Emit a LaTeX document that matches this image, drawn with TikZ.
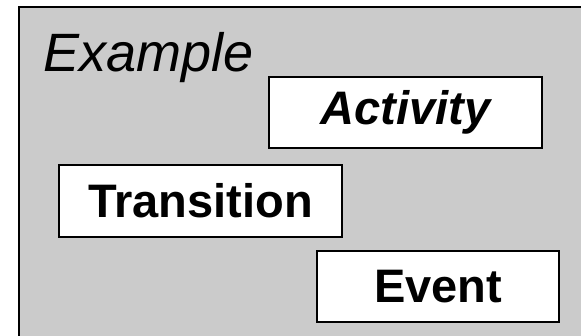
\documentclass[tikz,border=0pt]{standalone}
\usepackage{fontspec}
\setmainfont{Liberation Sans}
\definecolor{panelgray}{HTML}{CBCBCB}
\begin{document}
\begin{tikzpicture}[x=1pt,y=-1pt,
  label box/.style={draw=black,line width=2pt,fill=white,inner sep=0pt},
  box text/.style={font=\fontsize{47}{47}\selectfont\bfseries}]
\useasboundingbox (0,0) rectangle (581,335);
% grey panel with its frame running off the right and bottom edges
\fill[panelgray] (19,7) rectangle (590,345);
\draw[line width=2.5pt] (19,345) -- (19,7) -- (590,7);
% title
\node[anchor=base west,inner sep=0pt,font=\fontsize{54}{54}\selectfont\itshape] (title) at (43,71) {Example};
% boxes
\node[label box,minimum width=273pt,minimum height=71pt] (act) at (405.5,112.5) {};
\node[box text,font=\fontsize{47}{47}\selectfont\bfseries\itshape] (acttext) at (act) {Activity};
\node[label box,minimum width=283pt,minimum height=72pt] (trans) at (200.5,201) {};
\node[box text] (transtext) at (trans) {Transition};
\node[label box,minimum width=242pt,minimum height=71pt] (ev) at (438,286.5) {};
\node[box text] (evtext) at (ev) {Event};
\end{tikzpicture}
\end{document}
